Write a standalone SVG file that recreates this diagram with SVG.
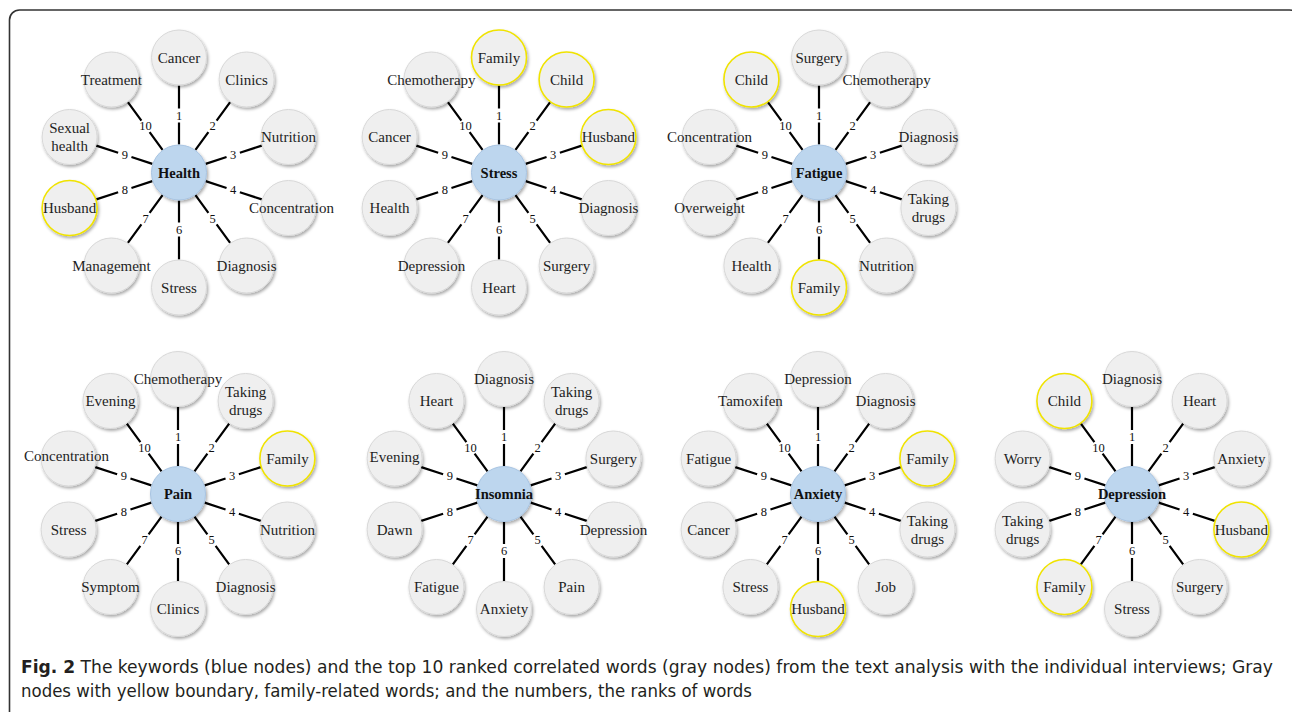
<svg xmlns="http://www.w3.org/2000/svg" xmlns:xlink="http://www.w3.org/1999/xlink" width="1292" height="712" viewBox="0 0 1292 712">
<style>
.n{fill:#efefef;stroke:#d8d8d8;stroke-width:1;filter:url(#sh)}
.y{fill:#efefef;stroke:#f0e300;stroke-width:1.6;filter:url(#sh)}
.k{fill:#bdd6ee;stroke:#a8c4e2;stroke-width:1;filter:url(#sh)}
.t{font-family:"Liberation Serif","Times New Roman",serif;font-size:15px;fill:#1e1e1e;text-anchor:middle}
.kt{font-family:"Liberation Serif","Times New Roman",serif;font-size:14.5px;font-weight:bold;fill:#111;text-anchor:middle}
.num{font-family:"Liberation Serif","Times New Roman",serif;font-size:12.5px;fill:#111;text-anchor:middle}
.sp{stroke:#000;stroke-width:2.2;fill:none}
.cap{font-family:"Liberation Sans Narrow","DejaVu Sans Condensed","Liberation Sans",sans-serif;font-size:17.5px;fill:#231f20}
</style>
<defs>
<filter id="sh" x="-30%" y="-30%" width="160%" height="160%">
<feDropShadow dx="1.3" dy="2" stdDeviation="1.5" flood-color="#000" flood-opacity="0.33"/>
</filter>
<path id="spoke" class="sp" d="M28 0H50M64 0H87"/>
<g id="nums">
<text class="num" x="0" y="-53">1</text>
<text class="num" x="33.5" y="-42.1">2</text>
<text class="num" x="54.2" y="-13.6">3</text>
<text class="num" x="54.2" y="21.6">4</text>
<text class="num" x="33.5" y="50.1">5</text>
<text class="num" x="0" y="61">6</text>
<text class="num" x="-33.5" y="50.1">7</text>
<text class="num" x="-54.2" y="21.6">8</text>
<text class="num" x="-54.2" y="-13.6">9</text>
<text class="num" x="-33.5" y="-42.1">10</text>
</g>
<g id="spokes">
<use href="#spoke" transform="rotate(-90)"/>
<use href="#spoke" transform="rotate(-54)"/>
<use href="#spoke" transform="rotate(-18)"/>
<use href="#spoke" transform="rotate(18)"/>
<use href="#spoke" transform="rotate(54)"/>
<use href="#spoke" transform="rotate(90)"/>
<use href="#spoke" transform="rotate(126)"/>
<use href="#spoke" transform="rotate(162)"/>
<use href="#spoke" transform="rotate(198)"/>
<use href="#spoke" transform="rotate(234)"/>
</g>
</defs>
<rect width="1292" height="712" fill="#fff"/>
<rect x="9.5" y="10" width="1290" height="720" rx="10" fill="none" stroke="#333" stroke-width="1.6"/>

<g id="connectors">
<g transform="translate(179,172.5)"><use href="#spokes"/><use href="#nums"/></g>
<g transform="translate(499,172.5)"><use href="#spokes"/><use href="#nums"/></g>
<g transform="translate(819,172.5)"><use href="#spokes"/><use href="#nums"/></g>
<g transform="translate(178,494)"><use href="#spokes"/><use href="#nums"/></g>
<g transform="translate(504,494)"><use href="#spokes"/><use href="#nums"/></g>
<g transform="translate(818,494)"><use href="#spokes"/><use href="#nums"/></g>
<g transform="translate(1132,494)"><use href="#spokes"/><use href="#nums"/></g>
</g>

<g id="cluster-health" transform="translate(179,172.5)">
<g id="health"><circle class="k" r="27.5"/><text class="kt" y="5">Health</text></g>
<g id="health-1" transform="translate(0,-115)"><circle class="n" r="27.5"/><text class="t" y="5">Cancer</text></g>
<g id="health-2" transform="translate(67.6,-93)"><circle class="n" r="27.5"/><text class="t" y="5">Clinics</text></g>
<g id="health-3" transform="translate(109.4,-35.5)"><circle class="n" r="27.5"/><text class="t" y="5">Nutrition</text></g>
<g id="health-4" transform="translate(109.4,35.5)"><circle class="n" r="27.5"/><text class="t" x="3" y="5">Concentration</text></g>
<g id="health-5" transform="translate(67.6,93)"><circle class="n" r="27.5"/><text class="t" y="5">Diagnosis</text></g>
<g id="health-6" transform="translate(0,115)"><circle class="n" r="27.5"/><text class="t" y="5">Stress</text></g>
<g id="health-7" transform="translate(-67.6,93)"><circle class="n" r="27.5"/><text class="t" y="5">Management</text></g>
<g id="health-8" transform="translate(-109.4,35.5)"><circle class="y" r="27.5"/><text class="t" y="5">Husband</text></g>
<g id="health-9" transform="translate(-109.4,-35.5)"><circle class="n" r="27.5"/><text class="t"><tspan x="0" y="-4">Sexual</tspan><tspan x="0" y="14">health</tspan></text></g>
<g id="health-10" transform="translate(-67.6,-93)"><circle class="n" r="27.5"/><text class="t" y="5">Treatment</text></g>
</g>

<g id="cluster-stress" transform="translate(499,172.5)">
<g id="stress"><circle class="k" r="27.5"/><text class="kt" y="5">Stress</text></g>
<g id="stress-1" transform="translate(0,-115)"><circle class="y" r="27.5"/><text class="t" y="5">Family</text></g>
<g id="stress-2" transform="translate(67.6,-93)"><circle class="y" r="27.5"/><text class="t" y="5">Child</text></g>
<g id="stress-3" transform="translate(109.4,-35.5)"><circle class="y" r="27.5"/><text class="t" y="5">Husband</text></g>
<g id="stress-4" transform="translate(109.4,35.5)"><circle class="n" r="27.5"/><text class="t" y="5">Diagnosis</text></g>
<g id="stress-5" transform="translate(67.6,93)"><circle class="n" r="27.5"/><text class="t" y="5">Surgery</text></g>
<g id="stress-6" transform="translate(0,115)"><circle class="n" r="27.5"/><text class="t" y="5">Heart</text></g>
<g id="stress-7" transform="translate(-67.6,93)"><circle class="n" r="27.5"/><text class="t" y="5">Depression</text></g>
<g id="stress-8" transform="translate(-109.4,35.5)"><circle class="n" r="27.5"/><text class="t" y="5">Health</text></g>
<g id="stress-9" transform="translate(-109.4,-35.5)"><circle class="n" r="27.5"/><text class="t" y="5">Cancer</text></g>
<g id="stress-10" transform="translate(-67.6,-93)"><circle class="n" r="27.5"/><text class="t" y="5">Chemotherapy</text></g>
</g>

<g id="cluster-fatigue" transform="translate(819,172.5)">
<g id="fatigue"><circle class="k" r="27.5"/><text class="kt" y="5">Fatigue</text></g>
<g id="fatigue-1" transform="translate(0,-115)"><circle class="n" r="27.5"/><text class="t" y="5">Surgery</text></g>
<g id="fatigue-2" transform="translate(67.6,-93)"><circle class="n" r="27.5"/><text class="t" y="5">Chemotherapy</text></g>
<g id="fatigue-3" transform="translate(109.4,-35.5)"><circle class="n" r="27.5"/><text class="t" y="5">Diagnosis</text></g>
<g id="fatigue-4" transform="translate(109.4,35.5)"><circle class="n" r="27.5"/><text class="t"><tspan x="0" y="-4">Taking</tspan><tspan x="0" y="14">drugs</tspan></text></g>
<g id="fatigue-5" transform="translate(67.6,93)"><circle class="n" r="27.5"/><text class="t" y="5">Nutrition</text></g>
<g id="fatigue-6" transform="translate(0,115)"><circle class="y" r="27.5"/><text class="t" y="5">Family</text></g>
<g id="fatigue-7" transform="translate(-67.6,93)"><circle class="n" r="27.5"/><text class="t" y="5">Health</text></g>
<g id="fatigue-8" transform="translate(-109.4,35.5)"><circle class="n" r="27.5"/><text class="t" y="5">Overweight</text></g>
<g id="fatigue-9" transform="translate(-109.4,-35.5)"><circle class="n" r="27.5"/><text class="t" y="5">Concentration</text></g>
<g id="fatigue-10" transform="translate(-67.6,-93)"><circle class="y" r="27.5"/><text class="t" y="5">Child</text></g>
</g>

<g id="cluster-pain" transform="translate(178,494)">
<g id="pain"><circle class="k" r="27.5"/><text class="kt" y="5">Pain</text></g>
<g id="pain-1" transform="translate(0,-115)"><circle class="n" r="27.5"/><text class="t" y="5">Chemotherapy</text></g>
<g id="pain-2" transform="translate(67.6,-93)"><circle class="n" r="27.5"/><text class="t"><tspan x="0" y="-4">Taking</tspan><tspan x="0" y="14">drugs</tspan></text></g>
<g id="pain-3" transform="translate(109.4,-35.5)"><circle class="y" r="27.5"/><text class="t" y="5">Family</text></g>
<g id="pain-4" transform="translate(109.4,35.5)"><circle class="n" r="27.5"/><text class="t" y="5">Nutrition</text></g>
<g id="pain-5" transform="translate(67.6,93)"><circle class="n" r="27.5"/><text class="t" y="5">Diagnosis</text></g>
<g id="pain-6" transform="translate(0,115)"><circle class="n" r="27.5"/><text class="t" y="5">Clinics</text></g>
<g id="pain-7" transform="translate(-67.6,93)"><circle class="n" r="27.5"/><text class="t" y="5">Symptom</text></g>
<g id="pain-8" transform="translate(-109.4,35.5)"><circle class="n" r="27.5"/><text class="t" y="5">Stress</text></g>
<g id="pain-9" transform="translate(-109.4,-35.5)"><circle class="n" r="27.5"/><text class="t" x="-2" y="2">Concentration</text></g>
<g id="pain-10" transform="translate(-67.6,-93)"><circle class="n" r="27.5"/><text class="t" y="5">Evening</text></g>
</g>

<g id="cluster-insomnia" transform="translate(504,494)">
<g id="insomnia"><circle class="k" r="27.5"/><text class="kt" y="5">Insomnia</text></g>
<g id="insomnia-1" transform="translate(0,-115)"><circle class="n" r="27.5"/><text class="t" y="5">Diagnosis</text></g>
<g id="insomnia-2" transform="translate(67.6,-93)"><circle class="n" r="27.5"/><text class="t"><tspan x="0" y="-4">Taking</tspan><tspan x="0" y="14">drugs</tspan></text></g>
<g id="insomnia-3" transform="translate(109.4,-35.5)"><circle class="n" r="27.5"/><text class="t" y="5">Surgery</text></g>
<g id="insomnia-4" transform="translate(109.4,35.5)"><circle class="n" r="27.5"/><text class="t" y="5">Depression</text></g>
<g id="insomnia-5" transform="translate(67.6,93)"><circle class="n" r="27.5"/><text class="t" y="5">Pain</text></g>
<g id="insomnia-6" transform="translate(0,115)"><circle class="n" r="27.5"/><text class="t" y="5">Anxiety</text></g>
<g id="insomnia-7" transform="translate(-67.6,93)"><circle class="n" r="27.5"/><text class="t" y="5">Fatigue</text></g>
<g id="insomnia-8" transform="translate(-109.4,35.5)"><circle class="n" r="27.5"/><text class="t" y="5">Dawn</text></g>
<g id="insomnia-9" transform="translate(-109.4,-35.5)"><circle class="n" r="27.5"/><text class="t" y="3">Evening</text></g>
<g id="insomnia-10" transform="translate(-67.6,-93)"><circle class="n" r="27.5"/><text class="t" y="5">Heart</text></g>
</g>

<g id="cluster-anxiety" transform="translate(818,494)">
<g id="anxiety"><circle class="k" r="27.5"/><text class="kt" y="5">Anxiety</text></g>
<g id="anxiety-1" transform="translate(0,-115)"><circle class="n" r="27.5"/><text class="t" y="5">Depression</text></g>
<g id="anxiety-2" transform="translate(67.6,-93)"><circle class="n" r="27.5"/><text class="t" y="5">Diagnosis</text></g>
<g id="anxiety-3" transform="translate(109.4,-35.5)"><circle class="y" r="27.5"/><text class="t" y="5">Family</text></g>
<g id="anxiety-4" transform="translate(109.4,35.5)"><circle class="n" r="27.5"/><text class="t"><tspan x="0" y="-4">Taking</tspan><tspan x="0" y="14">drugs</tspan></text></g>
<g id="anxiety-5" transform="translate(67.6,93)"><circle class="n" r="27.5"/><text class="t" y="5">Job</text></g>
<g id="anxiety-6" transform="translate(0,115)"><circle class="y" r="27.5"/><text class="t" y="5">Husband</text></g>
<g id="anxiety-7" transform="translate(-67.6,93)"><circle class="n" r="27.5"/><text class="t" y="5">Stress</text></g>
<g id="anxiety-8" transform="translate(-109.4,35.5)"><circle class="n" r="27.5"/><text class="t" y="5">Cancer</text></g>
<g id="anxiety-9" transform="translate(-109.4,-35.5)"><circle class="n" r="27.5"/><text class="t" y="5">Fatigue</text></g>
<g id="anxiety-10" transform="translate(-67.6,-93)"><circle class="n" r="27.5"/><text class="t" y="5">Tamoxifen</text></g>
</g>

<g id="cluster-depression" transform="translate(1132,494)">
<g id="depression"><circle class="k" r="27.5"/><text class="kt" y="5">Depression</text></g>
<g id="depression-1" transform="translate(0,-115)"><circle class="n" r="27.5"/><text class="t" y="5">Diagnosis</text></g>
<g id="depression-2" transform="translate(67.6,-93)"><circle class="n" r="27.5"/><text class="t" y="5">Heart</text></g>
<g id="depression-3" transform="translate(109.4,-35.5)"><circle class="n" r="27.5"/><text class="t" y="5">Anxiety</text></g>
<g id="depression-4" transform="translate(109.4,35.5)"><circle class="y" r="27.5"/><text class="t" y="5">Husband</text></g>
<g id="depression-5" transform="translate(67.6,93)"><circle class="n" r="27.5"/><text class="t" y="5">Surgery</text></g>
<g id="depression-6" transform="translate(0,115)"><circle class="n" r="27.5"/><text class="t" y="5">Stress</text></g>
<g id="depression-7" transform="translate(-67.6,93)"><circle class="y" r="27.5"/><text class="t" y="5">Family</text></g>
<g id="depression-8" transform="translate(-109.4,35.5)"><circle class="n" r="27.5"/><text class="t"><tspan x="0" y="-4">Taking</tspan><tspan x="0" y="14">drugs</tspan></text></g>
<g id="depression-9" transform="translate(-109.4,-35.5)"><circle class="n" r="27.5"/><text class="t" y="5">Worry</text></g>
<g id="depression-10" transform="translate(-67.6,-93)"><circle class="y" r="27.5"/><text class="t" y="5">Child</text></g>
</g>

<g id="caption">
<text class="cap" x="21" y="673" textLength="1252" lengthAdjust="spacingAndGlyphs"><tspan font-weight="bold">Fig. 2</tspan> The keywords (blue nodes) and the top 10 ranked correlated words (gray nodes) from the text analysis with the individual interviews; Gray</text>
<text class="cap" x="21" y="697" textLength="731" lengthAdjust="spacingAndGlyphs">nodes with yellow boundary, family-related words; and the numbers, the ranks of words</text>
</g>
</svg>
